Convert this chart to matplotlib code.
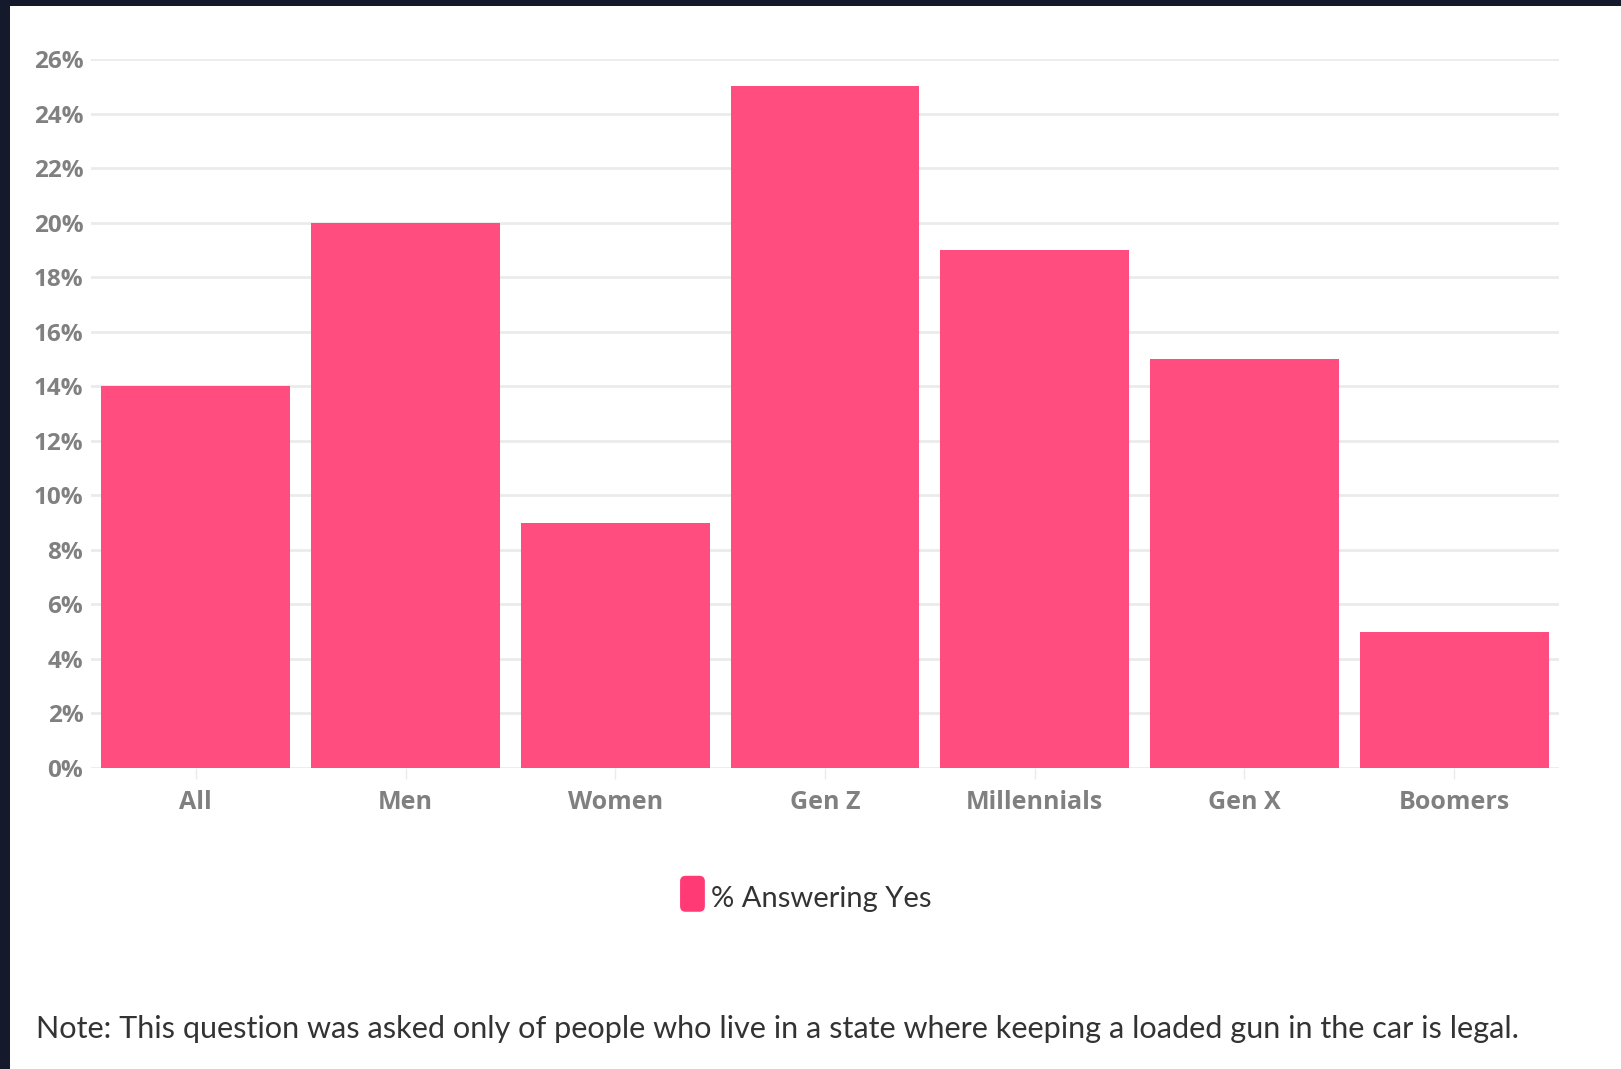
import matplotlib
matplotlib.use("Agg")
import matplotlib.pyplot as plt
from matplotlib.patches import FancyBboxPatch
from matplotlib.legend_handler import HandlerBase

categories = ["All", "Men", "Women", "Gen Z", "Millennials", "Gen X", "Boomers"]
pct_yes = [14, 20, 9, 25, 19, 15, 5]
y_ticks = list(range(0, 27, 2))
series_label = "% Answering Yes"
note = ("Note: This question was asked only of people who live in a state "
        "where keeping a loaded gun in the car is legal.")

BAR = "#FF4D80"
LEG = "#FF3A75"
DARK = "#141A2B"
TICK = "#808080"
GRID = "#EBEBEB"
TICKFONT = dict(family="Open Sans", fontweight="bold", color=TICK)


class RoundHandler(HandlerBase):
    def create_artists(self, legend, orig, xd, yd, w, h, fs, trans):
        p = FancyBboxPatch((xd, yd - 8), w, h + 3,
                           boxstyle="round,pad=0,rounding_size=4",
                           facecolor=LEG, edgecolor="none", transform=trans)
        return [p]


fig = plt.figure(figsize=(16.21, 10.69), dpi=100)
fig.patch.set_facecolor("white")

# dark frame on top/left edge (screenshot border)
fig.add_artist(plt.Rectangle((0, 1 - 6 / 1069), 1, 6 / 1069, transform=fig.transFigure,
                             facecolor=DARK, edgecolor="none"))
fig.add_artist(plt.Rectangle((0, 0), 10 / 1621, 1, transform=fig.transFigure,
                             facecolor=DARK, edgecolor="none"))

ax = fig.add_axes([91 / 1621, 301 / 1069, 1468 / 1621, 709 / 1069])
x = range(len(categories))
bars = ax.bar(x, pct_yes, width=0.9, color=BAR, label=series_label, zorder=2)

ax.set_xlim(-0.5, len(categories) - 0.5)
ax.set_ylim(0, 26)
ax.set_yticks(y_ticks)
ax.set_yticklabels([f"{v}%" for v in y_ticks], fontsize=17.5, **TICKFONT)
ax.set_xticks(list(x))
ax.set_xticklabels(categories, fontsize=18, **TICKFONT)
ax.grid(axis="y", color=GRID, linewidth=2, zorder=0)
ax.set_axisbelow(True)
for s in ax.spines.values():
    s.set_visible(False)

ax.tick_params(axis="y", length=0, pad=5.5)
ax.tick_params(axis="x", length=8, width=1, color=GRID, pad=8)

leg = ax.legend(handles=[bars], labels=[series_label], loc="center",
                bbox_to_anchor=(0.497, (1069 - 897) / 1069), bbox_transform=fig.transFigure,
                frameon=False, handlelength=0.85, handleheight=1.3, handletextpad=0.2,
                handler_map={type(bars): RoundHandler()},
                prop={"family": "Lato", "size": 21})
for t in leg.get_texts():
    t.set_color("#333333")

fig.text(36 / 1621, (1069 - 1029) / 1069, note, ha="left", va="center",
         fontsize=22.1, color="#333333", family="Lato")

fig.savefig("out.png", dpi=100)
